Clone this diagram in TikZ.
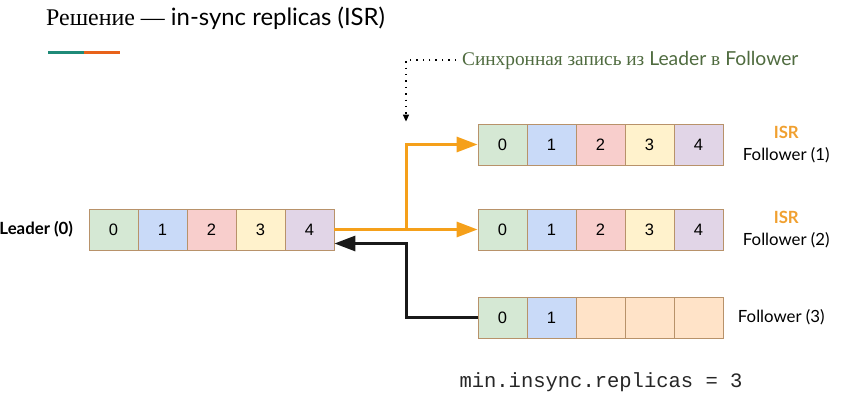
\documentclass[tikz,border=0pt]{standalone}
\usepackage{fontspec}
\setmainfont{Lato}
\newfontfamily\serifru{Liberation Serif}
\newfontfamily\cellfont{Liberation Sans}
\newfontfamily\codefont{Liberation Mono}
\usetikzlibrary{positioning}
\usetikzlibrary{calc}
\usetikzlibrary{arrows.meta}

\definecolor{cellgreen}{HTML}{D5E8D4}
\definecolor{cellblue}{HTML}{C9DAF8}
\definecolor{cellred}{HTML}{F8CECC}
\definecolor{cellyellow}{HTML}{FFF2CC}
\definecolor{cellpurple}{HTML}{E1D5E7}
\definecolor{cellpeach}{HTML}{FFE3C8}
\definecolor{cellborder}{HTML}{B8926A}
\definecolor{syncorange}{HTML}{F5A01A}
\definecolor{isrorange}{HTML}{F0A030}
\definecolor{barteal}{HTML}{1F8A78}
\definecolor{barorange}{HTML}{E8621A}
\definecolor{notegreen}{HTML}{4F6B3F}

\begin{document}
\begin{tikzpicture}[x=1pt, y=-1pt,
    cell/.style={rectangle, draw=cellborder, line width=0.8pt, minimum width=49pt, minimum height=41pt, inner sep=0pt, font=\cellfont\fontsize{16.5}{19}\selectfont},
    lbl/.style={align=center, font=\fontsize{16.8}{22}\selectfont},
    sync/.style={-{Triangle[length=21pt, width=15pt]}, syncorange, line width=3pt},
    ack/.style={-{Triangle[length=21pt, width=15pt]}, black!90, line width=3pt},
    hint/.style={dash pattern=on 1.4pt off 5pt, line width=1.4pt, -{Triangle[length=7pt, width=6pt]}}]

    \useasboundingbox (0,0) rectangle (848,417);

    % title
    \node[anchor=west, inner sep=0pt, font=\fontsize{23.9}{28}\selectfont] (title) at (46,18)
        {{\serifru Решение —} in-sync replicas (ISR)};
    \draw[barteal, line width=3pt] (48,53) -- (84,53);
    \draw[barorange, line width=3pt] (84,53) -- (120,53);

    % logs
    \foreach \i/\c in {0/cellgreen, 1/cellblue, 2/cellred, 3/cellyellow, 4/cellpurple} {
        \node[cell, fill=\c] (L\i) at (113.5+49*\i, 229.5) {\i};
        \node[cell, fill=\c] (A\i) at (502.5+49*\i, 144.5) {\i};
        \node[cell, fill=\c] (B\i) at (502.5+49*\i, 229.5) {\i};
    }
    \foreach \i/\c/\t in {0/cellgreen/0, 1/cellblue/1, 2/cellpeach/{}, 3/cellpeach/{}, 4/cellpeach/{}} {
        \node[cell, fill=\c] (C\i) at (502.5+49*\i, 317.5) {\t};
    }

    % labels
    \node[lbl, left=12pt of L0] (leader) {\textbf{Leader (0)}};
    \node[lbl, right=16pt of A4] (isr1) {\textcolor{isrorange}{\textbf{ISR}}\\Follower (1)};
    \node[lbl, right=16pt of B4] (isr2) {\textcolor{isrorange}{\textbf{ISR}}\\Follower (2)};
    \node[lbl, right=11pt of C4] (f3) {Follower (3)};

    \node[anchor=west, inner sep=0pt, text=notegreen, font=\fontsize{19.3}{23}\selectfont] (note) at (462,60)
        {{\serifru Синхронная запись из} Leader {\serifru в} Follower};

    \node[font=\codefont\fontsize{20.5}{24}\selectfont, text=black!85] (cfg) at (601,382)
        {min.insync.replicas = 3};

    % replication
    \coordinate (fork) at ($(L4.east)!0.5!(B0.west)$);
    \draw[sync] (L4.east) -- (B0.west);
    \draw[sync] (fork) |- (A0.west);
    \draw[ack] (C0.west) -| ([yshift=-14pt]fork) -- ([yshift=-14pt]L4.east);
    \draw[hint] ([xshift=-6pt]note.west) -| ([yshift=2pt]fork |- A0.north);
\end{tikzpicture}
\end{document}
